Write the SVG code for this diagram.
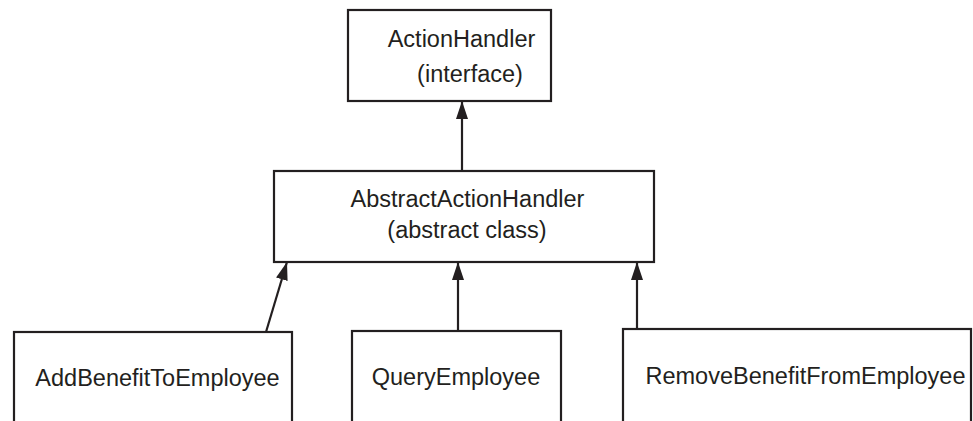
<svg xmlns="http://www.w3.org/2000/svg" width="973" height="421" viewBox="0 0 973 421">
<defs>
<style>
.box{fill:#fff;stroke:#231f20;stroke-width:2.2}
.lbl{font-family:"Liberation Sans",Arial,sans-serif;font-size:23.5px;fill:#231f20;text-anchor:middle}
.conn{stroke:#231f20;stroke-width:2.2;fill:none}
</style>
<marker id="arr" viewBox="0 0 18 12" refX="18" refY="6" markerWidth="18" markerHeight="12" markerUnits="userSpaceOnUse" orient="auto">
<path d="M0,0 L18,6 L0,12 z" fill="#231f20"/>
</marker>
</defs>
<rect width="973" height="421" fill="#fff"/>
<g id="connectors">
<line class="conn" x1="462" y1="171" x2="462" y2="101" marker-end="url(#arr)"/>
<line class="conn" x1="266" y1="332" x2="287" y2="262" marker-end="url(#arr)"/>
<line class="conn" x1="458" y1="331" x2="458" y2="262" marker-end="url(#arr)"/>
<line class="conn" x1="637" y1="329" x2="637" y2="262" marker-end="url(#arr)"/>
</g>
<g id="actionHandler">
<rect class="box" x="348" y="10" width="203" height="91"/>
<text class="lbl" x="461.5" y="47">ActionHandler</text>
<text class="lbl" x="470" y="82">(interface)</text>
</g>
<g id="abstractActionHandler">
<rect class="box" x="274" y="171" width="380" height="91"/>
<text class="lbl" x="467.5" y="207">AbstractActionHandler</text>
<text class="lbl" x="467" y="238">(abstract class)</text>
</g>
<g id="addBenefitToEmployee">
<rect class="box" x="14" y="332" width="278" height="110"/>
<text class="lbl" x="157.5" y="386">AddBenefitToEmployee</text>
</g>
<g id="queryEmployee">
<rect class="box" x="352" y="331" width="209" height="110"/>
<text class="lbl" x="456" y="385">QueryEmployee</text>
</g>
<g id="removeBenefitFromEmployee">
<rect class="box" x="623" y="329" width="348" height="110"/>
<text class="lbl" x="805.5" y="384">RemoveBenefitFromEmployee</text>
</g>
</svg>
